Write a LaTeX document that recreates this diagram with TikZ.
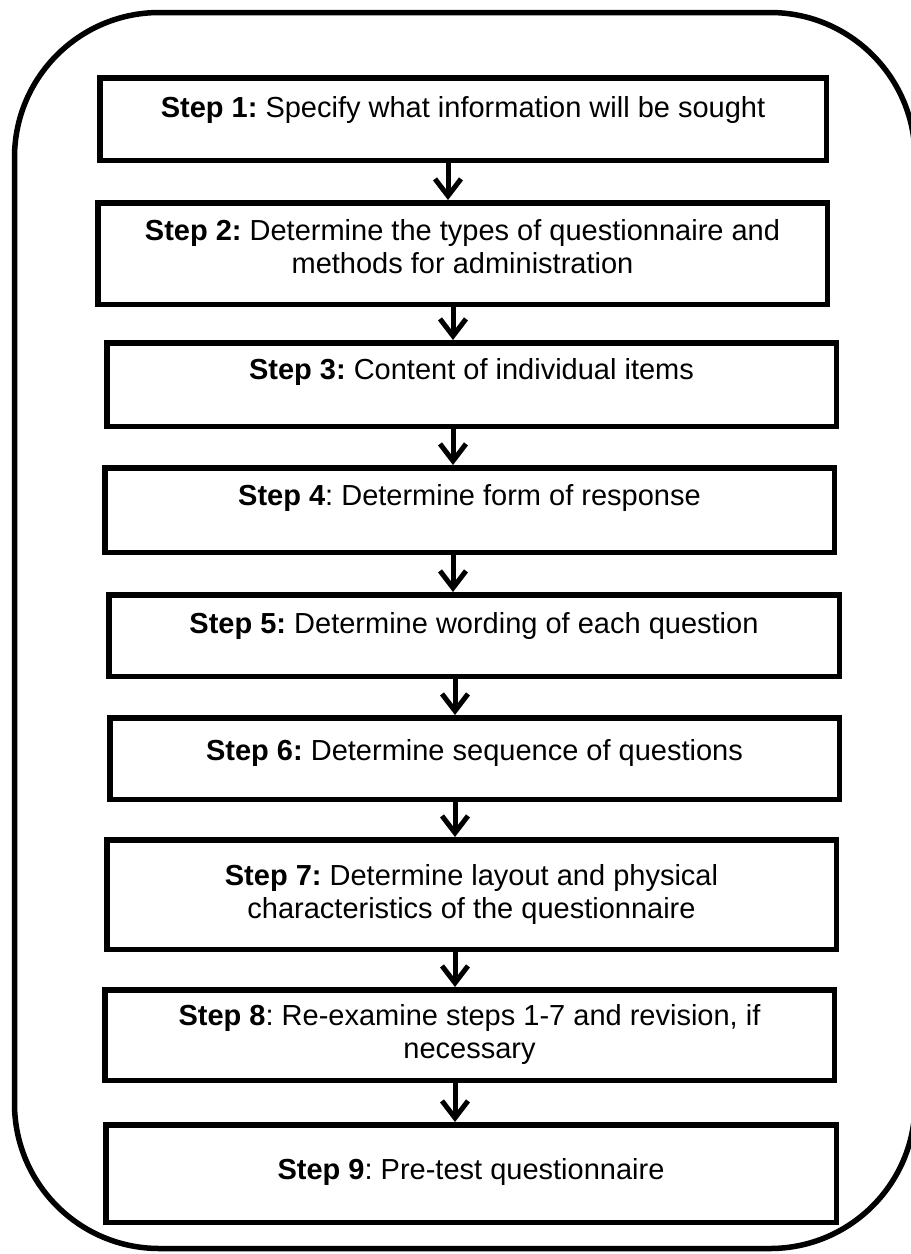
\documentclass[tikz,border=0pt]{standalone}
\usepackage{fontspec}
\setmainfont{Liberation Sans}
\usetikzlibrary{arrows.meta}
\frenchspacing
\begin{document}
\begin{tikzpicture}[x=1pt,y=-1pt,
  stepbox/.style={draw, line width=5.5pt, rectangle, inner sep=0pt},
  steptext/.style={anchor=base, align=center, inner sep=0pt,
    font=\fontsize{29}{33}\selectfont},
  flow/.style={line width=5pt,
    -{Straight Barb[length=17pt,width=26pt,line width=5pt]}},
  frame/.style={draw, line width=5.5pt, rounded corners=145pt}]
\useasboundingbox (0,0) rectangle (911,1254);
\clip (0,0) rectangle (911,1254);

% enclosing rounded frame
\draw[frame] (14.5,12.5) rectangle (915,1248.5);

% step boxes
\node[stepbox, minimum width=726.5pt, minimum height=82.5pt]  (b1) at (463,119) {};
\node[stepbox, minimum width=729.5pt, minimum height=101.5pt] (b2) at (462.5,253.5) {};
\node[stepbox, minimum width=729.5pt, minimum height=83.5pt]  (b3) at (471.5,384.5) {};
\node[stepbox, minimum width=729.5pt, minimum height=84.5pt]  (b4) at (469.5,510) {};
\node[stepbox, minimum width=730.5pt, minimum height=81.5pt]  (b5) at (474,635.5) {};
\node[stepbox, minimum width=729.5pt, minimum height=81.5pt]  (b6) at (474.5,758.5) {};
\node[stepbox, minimum width=729.5pt, minimum height=109.5pt] (b7) at (471.5,894.5) {};
\node[stepbox, minimum width=729.5pt, minimum height=90.5pt]  (b8) at (469.5,1035) {};
\node[stepbox, minimum width=730.5pt, minimum height=97.5pt]  (b9) at (471,1173.5) {};

% step texts (base anchor sits on the last line)
\node[steptext] (t1) at (463,117) {\textbf{Step 1:} Specify what information will be sought};
\node[steptext] (t2) at (462.5,273) {\textbf{Step 2:} Determine the types of questionnaire and\\methods for administration};
\node[steptext] (t3) at (471.5,379) {\textbf{Step 3:} Content of individual items};
\node[steptext] (t4) at (469.5,505) {\textbf{Step 4}: Determine form of response};
\node[steptext] (t5) at (474,633) {\textbf{Step 5:} Determine wording of each question};
\node[steptext] (t6) at (474.5,760) {\textbf{Step 6:} Determine sequence of questions};
\node[steptext] (t7) at (471.5,918) {\textbf{Step 7:} Determine layout and physical\\characteristics of the questionnaire};
\node[steptext] (t8) at (469.5,1058) {\textbf{Step 8}: Re-examine steps 1-7 and revision, if\\necessary};
\node[steptext] (t9) at (471,1179) {\textbf{Step 9}: Pre-test questionnaire};

% arrow columns
\coordinate (c1) at (448,0);
\coordinate (c2) at (453,0);
\coordinate (c3) at (455,0);

% connectors
\draw[flow] (b1.south -| c1) -- (b2.north -| c1);
\draw[flow] (b2.south -| c2) -- (b3.north -| c2);
\draw[flow] (b3.south -| c2) -- (b4.north -| c2);
\draw[flow] (b4.south -| c2) -- (b5.north -| c2);
\draw[flow] (b5.south -| c3) -- (b6.north -| c3);
\draw[flow] (b6.south -| c3) -- (b7.north -| c3);
\draw[flow] (b7.south -| c3) -- (b8.north -| c3);
\draw[flow] (b8.south -| c3) -- (b9.north -| c3);
\end{tikzpicture}
\end{document}
